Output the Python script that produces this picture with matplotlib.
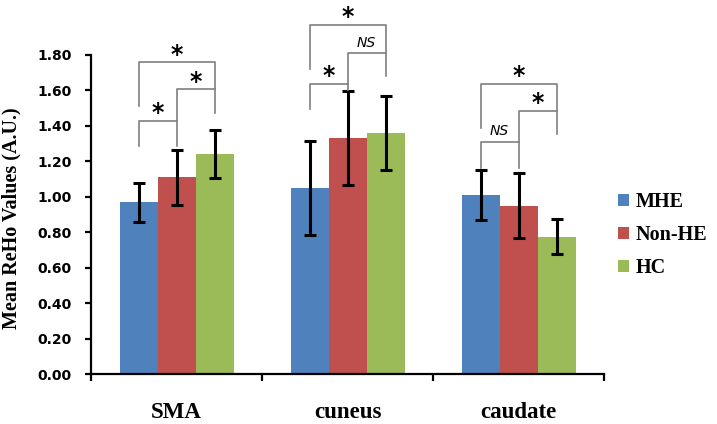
import numpy as np
import matplotlib
matplotlib.use('Agg')
import matplotlib.pyplot as plt
from matplotlib import transforms

# data
regions = ['SMA', 'cuneus', 'caudate']
groups = ['MHE', 'Non-HE', 'HC']
mhe_mean = [0.97, 1.05, 1.01]
mhe_err = [0.11, 0.265, 0.14]
nonhe_mean = [1.11, 1.33, 0.95]
nonhe_err = [0.155, 0.265, 0.185]
hc_mean = [1.24, 1.36, 0.775]
hc_err = [0.135, 0.21, 0.10]

# significance brackets: region, bar a, bar b, left leg bottom, top, right leg bottom, label
brackets = [
    (0, 0, 1, 1.286, 1.428, 1.286, '*'),
    (0, 1, 2, 1.428, 1.606, 1.473, '*'),
    (0, 0, 2, 1.511, 1.758, 1.606, '*'),
    (1, 0, 1, 1.494, 1.636, 1.600, '*'),
    (1, 1, 2, 1.636, 1.809, 1.681, 'NS'),
    (1, 0, 2, 1.720, 1.969, 1.809, '*'),
    (2, 0, 1, 1.160, 1.309, 1.160, 'NS'),
    (2, 1, 2, 1.309, 1.484, 1.356, '*'),
    (2, 0, 2, 1.390, 1.639, 1.484, '*'),
]

colors = ['#4F81BD', '#C0504D', '#9BBB59']
means = [mhe_mean, nonhe_mean, hc_mean]
errs = [mhe_err, nonhe_err, hc_err]

fig = plt.figure(figsize=(7.17, 4.24), dpi=100)
ax = fig.add_axes([91/717, 1-374/424, 513/717, 319/424])

x = np.arange(len(regions))
w = 2/9
handles = []
for k in range(3):
    pos = x + (k-1)*w
    b = ax.bar(pos, means[k], w, color=colors[k], label=groups[k], zorder=2)
    handles.append(b)
    ax.errorbar(pos, means[k], yerr=errs[k], fmt='none', ecolor='black',
                elinewidth=2.2, capsize=4, capthick=2.2, zorder=3)

for reg, a, bb, yl, yt, yr, lab in brackets:
    xa = reg + (a-1)*w
    xb = reg + (bb-1)*w
    ax.plot([xa, xa, xb, xb], [yl, yt, yt, yr], color='#7F7F7F', lw=1.2,
            clip_on=False, zorder=4)
    xm = (xa + xb)/2
    if lab == '*':
        tr = transforms.offset_copy(ax.transData, fig, y=-8.5, units='points')
        ax.text(xm, yt + 0.07, '*', transform=tr, ha='center', va='baseline',
                fontsize=17, fontweight='bold', fontstyle='italic', clip_on=False)
    else:
        tr = transforms.offset_copy(ax.transData, fig, y=-3.6, units='points')
        ax.text(xm, yt + 0.065, lab, transform=tr, ha='center', va='baseline',
                fontsize=10, fontstyle='italic',
                family=['Liberation Sans Narrow', 'DejaVu Sans'], clip_on=False)

ax.set_xlim(-0.5, 2.5)
ax.set_ylim(0, 1.8)
ax.set_yticks(np.arange(0, 1.81, 0.2))
ax.set_yticklabels(['%.2f' % v for v in np.arange(0, 1.81, 0.2)],
                   fontsize=10, fontweight='bold')
ax.set_xticks(x)
ax.set_xticklabels(regions, fontsize=16.5, fontweight='bold', family='Liberation Serif')
ax.set_xticks([-0.5, 0.5, 1.5, 2.5], minor=True)
ax.tick_params(axis='x', which='major', length=0, pad=20)
ax.tick_params(axis='x', which='minor', length=5, width=1.6, direction='out')
ax.tick_params(axis='y', length=4, width=1.6, direction='out', pad=10)

for s in ['top', 'right']:
    ax.spines[s].set_visible(False)
for s in ['left', 'bottom']:
    ax.spines[s].set_linewidth(1.6)

ax.set_ylabel('Mean ReHo Values (A.U.)', fontsize=14.5, fontweight='bold',
              family='Liberation Serif')
ax.yaxis.set_label_coords(-0.135, 0.49)

fig.legend(handles=handles, labels=groups, loc='center left',
           bbox_to_anchor=(608/717, 1-235/424), frameon=False, borderpad=0,
           handlelength=0.55, handleheight=0.55, handletextpad=0.3,
           labelspacing=0.65, prop={'family': 'Liberation Serif', 'weight': 'bold', 'size': 14.5})

fig.savefig('out.png', dpi=100)
